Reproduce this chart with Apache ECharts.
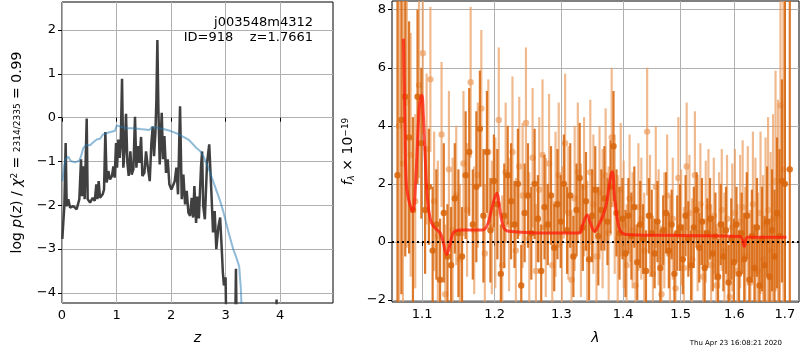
<!DOCTYPE html>
<html>
<head>
<meta charset="utf-8">
<script src="https://cdn.jsdelivr.net/npm/echarts@6/dist/echarts.min.js"></script>
<style>
  html, body { margin: 0; padding: 0; background: #fff; }
  #main { width: 800px; height: 350px; }
</style>
</head>
<body>
<div id="main"></div>
<script>
// p(z) panel
var pzZ = [0.006, 0.024, 0.043, 0.067, 0.086, 0.116, 0.147, 0.208, 0.269, 0.318, 0.349, 0.367, 0.391, 0.416, 0.453, 0.471,
    0.514, 0.563, 0.6, 0.63, 0.648, 0.673, 0.697, 0.746, 0.771, 0.795, 0.82, 0.85, 0.881, 0.917, 0.942, 0.966, 0.991,
    1.009, 1.034, 1.058, 1.076, 1.101, 1.125, 1.15, 1.174, 1.199, 1.223, 1.254, 1.278, 1.309, 1.339, 1.364, 1.394,
    1.419, 1.45, 1.474, 1.511, 1.541, 1.572, 1.609, 1.639, 1.664, 1.688, 1.713, 1.731, 1.749, 1.768, 1.792, 1.829,
    1.853, 1.878, 1.908, 1.939, 1.969, 2.006, 2.037, 2.067, 2.098, 2.128, 2.165, 2.196, 2.226, 2.257, 2.287, 2.318,
    2.349, 2.379, 2.404, 2.428, 2.459, 2.483, 2.51, 2.55, 2.57, 2.59, 2.62, 2.66, 2.70, 2.74, 2.77, 2.80, 2.83, 2.87,
    2.90, 2.93, 2.95, 2.97, 3.0, 3.02, 3.17, 3.19, 3.21, 3.92, 3.935, 3.95, 4.97];
var pzLog = [-2.77, -2.39, -2.02, -0.58, -2.02, -1.86, -2.05, -2.02, -2.09, -1.86, -0.95, -1.79, -1.11, -1.86, -0.02, -1.86,
    -1.94, -1.83, -1.9, -1.52, -1.86, -1.45, -1.83, -1.75, -1.64, -0.33, -1.48, -1.22, -1.41, -1.33, -1.11, -1.37, -0.58,
    -1.14, -0.5, -0.92, -0.65, 0.89, -1.14, -0.73, 0.09, -1.03, -1.33, -0.77, -1.3, -1.18, 0.02, -1.14, -0.65,
    -1.03, -0.44, -1.33, -1.26, -0.77, -1.11, -1.45, -0.58, -0.2, -0.88, -0.35, 0.41, 1.77, 0.18, -1.07, 0.11,
    -0.95, -0.42, -1.26, -0.95, -1.52, -1.64, -1.67, -1.45, -1.14, -1.75, 0.26, -1.86, -1.3, -1.98, -1.67, -2.17,
    -2.24, -1.83, -2.28, -1.56, -2.4, -1.8, -2.3, -1.11, -0.77, -2.02, -2.32, -1.03, -0.61, -1.71, -2.62, -2.13, -3.0, -2.47,
    -2.28, -3.0, -3.53, -3.83, -3.64, -5.5, -5.5, -3.45, -5.5, -5.5, -4.15, -5.5, -5.5];

var chiZ = [0.006, 0.037, 0.067, 0.116, 0.159, 0.239, 0.318, 0.349, 0.391, 0.44, 0.514, 0.575, 0.636, 0.697, 0.746, 0.82,
    0.911, 0.972, 1.003, 1.034, 1.095, 1.187, 1.309, 1.431, 1.602, 1.645, 1.737, 1.859, 1.982, 2.104, 2.226, 2.318,
    2.398, 2.471, 2.532, 2.6, 2.7, 2.8, 2.9, 2.96, 3.05, 3.14, 3.2, 3.25, 3.28, 3.3];
var chiLog = [-1.45, -1.11, -0.94, -0.89, -0.99, -1.02, -0.98, -0.88, -0.69, -0.63, -0.63, -0.56, -0.5, -0.48, -0.39, -0.35,
    -0.32, -0.3, -0.18, -0.17, -0.21, -0.24, -0.24, -0.26, -0.28, -0.22, -0.23, -0.26, -0.3, -0.36, -0.44, -0.5,
    -0.6, -0.7, -0.76, -0.9, -1.2, -1.55, -1.9, -2.15, -2.6, -3.0, -3.2, -3.4, -3.9, -4.6];

var zTicks = [0, 1, 2, 3, 4];
var logTicks = [-4, -3, -2, -1, 0, 1, 2];

// spectrum panel
var darkLam = [1.068, 1.073, 1.078, 1.083, 1.088, 1.094, 1.099, 1.104, 1.109, 1.114, 1.119, 1.124, 1.129, 1.134, 1.139,
    1.144, 1.149, 1.154, 1.159, 1.164, 1.169, 1.174, 1.179, 1.184, 1.189, 1.194, 1.199, 1.204, 1.209, 1.214, 1.219,
    1.224, 1.229, 1.234, 1.239, 1.244, 1.249, 1.254, 1.259, 1.264, 1.269, 1.274, 1.279, 1.284, 1.289, 1.294, 1.299,
    1.304, 1.309, 1.314, 1.319, 1.324, 1.329, 1.334, 1.339, 1.344, 1.349, 1.354, 1.359, 1.364, 1.369, 1.374, 1.379,
    1.384, 1.389, 1.394, 1.399, 1.404, 1.409, 1.414, 1.419, 1.424, 1.429, 1.434, 1.439, 1.444, 1.449, 1.454, 1.459,
    1.464, 1.469, 1.474, 1.479, 1.484, 1.489, 1.494, 1.499, 1.504, 1.509, 1.514, 1.519, 1.524, 1.529, 1.534, 1.539,
    1.544, 1.549, 1.554, 1.559, 1.564, 1.569, 1.574, 1.579, 1.584, 1.589, 1.594, 1.599, 1.604, 1.609, 1.614, 1.619,
    1.624, 1.629, 1.634, 1.639, 1.644, 1.649, 1.654, 1.659, 1.664, 1.669, 1.674, 1.679, 1.684, 1.689, 1.694, 1.700, 1.710];
var darkFlux = [2.3, 4.2, 5.0, 3.6, 1.1, 5.0, 3.4, 1.1, 1.9, -0.3, 0.6, -1.3, 1.0, -0.5, -0.8,
    1.5, 0.3, -0.5, 2.3, 3.1, 0.6, 1.9, 3.9, 0.9, 3.1, 0.4, 2.1, 1.3, -1.1, 0.9, 2.3,
    1.4, 0.6, 2.0, -1.5, 1.0, 1.6, 0.3, 2.0, 0.8, -1.0, 1.2, 0.6, 1.6, -0.2, 1.3, 0.7,
    2.0, 0.4, 1.6, -0.5, 1.1, 2.2, 0.5, 1.4, -0.6, 0.9, 1.8, 0.2, 1.1, 1.5, 0.7, 1.9,
    3.3, 1.0, 0.3, 0.8, -0.4, 0.9, 0.2, 1.2, -0.7, 0.6, 0.1, -1.0, 0.9, 0.3, -0.4, 0.7,
    -0.9, 0.4, 1.0, -0.3, 0.6, -1.1, 0.3, 0.5, -0.6, 0.9, 0.1, -0.8, 0.5, 1.1, -0.2, 0.7,
    -0.9, 0.3, 0.8, -0.4, 0.2, -1.2, 0.6, -0.5, 0.4, -1.4, 0.1, -0.7, 0.6, -1.1, 0.3, -0.6,
    0.9, -1.3, 0.2, -0.9, 0.5, -1.5, 0.1, -0.8, 0.7, -1.2, 0.4, -0.5, 1.0, 0.2, 2.1, 2.0, 2.5];
var darkErr = [9.0, 6.0, 5.5, 4.0, 3.2, 3.0, 2.6, 2.2, 2.0, 2.2, 1.9, 2.1, 2.4, 1.8, 2.0,
    1.9, 2.2, 1.7, 2.2, 2.2, 1.9, 2.6, 2.0, 2.3, 2.1, 1.8, 1.6, 1.9, 1.7, 1.8, 1.7,
    2.0, 1.5, 1.9, 1.4, 1.7, 1.8, 1.6, 1.9, 1.5, 1.6, 1.8, 1.4, 1.7, 1.5, 1.9, 1.6,
    1.7, 1.5, 1.8, 1.4, 1.6, 1.9, 1.5, 1.7, 1.4, 1.6, 1.5, 1.7, 1.4, 1.8, 1.5, 1.6,
    1.9, 1.5, 1.6, 1.4, 1.5, 1.3, 1.5, 1.4, 1.3, 1.5, 1.2, 1.4, 1.3, 1.5, 1.2, 1.4,
    1.3, 1.2, 1.4, 1.3, 1.2, 1.4, 1.3, 1.5, 1.2, 1.4, 1.3, 1.2, 1.4, 1.3, 1.2, 1.5,
    1.3, 1.2, 1.4, 1.3, 1.5, 1.3, 1.4, 1.2, 1.5, 1.3, 1.4, 1.5, 1.3, 1.5, 1.4, 1.6,
    1.5, 1.4, 1.6, 1.5, 1.7, 1.6, 1.8, 1.7, 1.9, 2.0, 2.1, 2.3, 2.6, 3.0, 3.5, 9.0, 12.0];

var lightLam = [1.070, 1.075, 1.080, 1.085, 1.091, 1.096, 1.101, 1.106, 1.111, 1.116, 1.121, 1.126, 1.131, 1.136, 1.141,
    1.146, 1.151, 1.156, 1.161, 1.166, 1.171, 1.176, 1.181, 1.186, 1.191, 1.196, 1.201, 1.206, 1.211, 1.216, 1.221,
    1.226, 1.231, 1.236, 1.241, 1.246, 1.251, 1.256, 1.261, 1.266, 1.271, 1.276, 1.281, 1.286, 1.291, 1.296, 1.301,
    1.306, 1.311, 1.316, 1.321, 1.326, 1.331, 1.336, 1.341, 1.346, 1.351, 1.356, 1.361, 1.366, 1.371, 1.376, 1.381,
    1.386, 1.391, 1.396, 1.401, 1.406, 1.411, 1.416, 1.421, 1.426, 1.431, 1.436, 1.441, 1.446, 1.451, 1.456, 1.461,
    1.466, 1.471, 1.476, 1.481, 1.486, 1.491, 1.496, 1.501, 1.506, 1.511, 1.516, 1.521, 1.526, 1.531, 1.536, 1.541,
    1.546, 1.551, 1.556, 1.561, 1.566, 1.571, 1.576, 1.581, 1.586, 1.591, 1.596, 1.601, 1.606, 1.611, 1.616, 1.621,
    1.626, 1.631, 1.636, 1.641, 1.646, 1.651, 1.656, 1.661, 1.666, 1.671, 1.676, 1.681, 1.686, 1.691, 1.697];
var lightFlux = [4.0, 2.7, 4.8, 3.0, 1.4, 5.4, 6.5, 3.2, 5.6, 1.4, 0.2, 3.7, -1.8, 2.5, 0.4,
    1.6, -0.6, 2.7, 1.1, 5.5, 0.4, 2.3, 4.6, -0.4, 3.1, 0.5, 1.0, 4.2, -0.8, 2.4, 0.6,
    3.1, -0.3, 2.6, 1.6, 4.1, 0.1, 2.9, -1.0, 1.8, 3.0, 0.5, 2.7, -0.8, 1.3, 2.3, 0.2,
    3.4, 1.0, -1.3, 1.5, 2.4, 0.4, 1.9, -0.2, 2.4, 1.3, -0.5, 1.7, 0.8, 2.3, 0.3, 3.6,
    1.3, 0.1, 1.8, 0.6, -0.8, 1.5, 0.4, -1.5, 1.2, 0.8, -0.3, 3.8, 0.9, -1.1, 1.9, 0.5,
    -1.8, 0.4, 1.6, -0.4, 0.8, -1.6, 2.2, 0.5, -0.9, 2.6, 1.0, -0.6, 2.3, 0.3, 1.3, -1.2,
    0.7, 1.2, -0.8, 0.9, -1.5, 0.4, 1.1, -0.3, 0.8, -1.9, 0.5, 1.0, -1.0, 0.7, 1.2, -0.5,
    0.9, -1.4, 1.3, 0.3, -1.0, 1.0, -0.6, 0.6, 1.1, -0.3, 0.8, 2.1, 0.9, 4.7, 2.5];
var lightErr = [8.0, 6.5, 5.0, 4.2, 3.0, 3.2, 2.8, 2.6, 2.5, 2.4, 2.6, 2.5, 2.4, 2.7, 2.5,
    2.4, 2.6, 2.5, 2.3, 2.6, 2.2, 2.5, 2.7, 2.4, 2.5, 2.3, 2.6, 2.5, 2.4, 2.4, 2.3,
    2.6, 2.5, 2.4, 2.5, 2.6, 2.3, 2.4, 2.3, 2.5, 2.6, 2.4, 2.4, 2.3, 2.5, 2.5, 2.4,
    2.4, 2.3, 2.4, 2.5, 2.4, 2.3, 2.4, 2.3, 2.5, 2.4, 2.2, 2.3, 2.4, 2.3, 2.3, 2.4,
    2.4, 2.2, 2.3, 2.2, 2.1, 2.2, 2.0, 2.1, 2.2, 2.1, 2.0, 2.2, 2.1, 2.0, 2.1, 2.0,
    2.1, 2.0, 2.1, 2.0, 2.1, 2.0, 2.1, 2.0, 2.1, 2.2, 2.0, 2.1, 2.2, 2.0, 2.1, 2.0,
    2.1, 2.0, 2.1, 2.0, 2.1, 2.0, 2.1, 2.0, 2.2, 2.1, 2.2, 2.2, 2.3, 2.3, 2.3, 2.4,
    2.4, 2.5, 2.5, 2.6, 2.7, 2.8, 2.9, 3.0, 3.2, 3.4, 3.6, 3.8, 4.0, 4.5, 8.0];

var modelLam = [1.0757, 1.0777, 1.0795, 1.083, 1.0877, 1.0921, 1.0965, 1.0996, 1.1017, 1.104, 1.107, 1.1106, 1.115,
    1.124, 1.128, 1.133, 1.1375, 1.142, 1.151, 1.183, 1.190, 1.196, 1.2031, 1.208, 1.2134, 1.2206, 1.28, 1.328,
    1.334, 1.341, 1.347, 1.353, 1.36, 1.367, 1.372, 1.382, 1.386, 1.392, 1.398, 1.41, 1.50, 1.6106, 1.619, 1.626, 1.703];
var modelFlux = [7.0, 3.8, 1.96, 1.4, 1.06, 2.4, 4.7, 5.05, 4.36, 3.0, 1.5, 0.82, 0.54,
    0.31, 0.02, -0.43, -0.09, 0.31, 0.41, 0.41, 0.6, 1.16, 1.68, 1.05, 0.48, 0.37, 0.31, 0.31,
    0.6, 0.93, 0.6, 0.37, 0.6, 0.93, 1.29, 2.42, 1.5, 0.6, 0.31, 0.25, 0.22, 0.19, -0.15, 0.16, 0.16];

var lamTicks = [1.1, 1.2, 1.3, 1.4, 1.5, 1.6, 1.7];
var fluxTicks = [-2, 0, 2, 4, 6, 8];

var FONT = 'DejaVu Sans';
function minus(v) { return String(v).replace('-', '\u2212'); }
function zip(a, b) { return a.map(function (v, i) { return [v, b[i]]; }); }

function errData(lam, flux, err) {
    return lam.map(function (l, i) { return [Math.log(l), flux[i], err[i]]; });
}

function errRender(color, opacity) {
    return function (params, api) {
        var x = api.value(0), y = api.value(1), e = api.value(2);
        var top = api.coord([x, y + e]);
        var bot = api.coord([x, y - e]);
        var mid = api.coord([x, y]);
        return {
            type: 'group',
            children: [{
                type: 'line',
                shape: {x1: top[0], y1: top[1], x2: bot[0], y2: bot[1]},
                style: {stroke: color, lineWidth: 2.2, opacity: opacity}
            }, {
                type: 'circle',
                shape: {cx: mid[0], cy: mid[1], r: 3.2},
                style: {fill: color, opacity: opacity}
            }]
        };
    };
}

var axisText = {color: '#000', fontFamily: FONT, fontSize: 13};
var splitGrey = {show: true, lineStyle: {color: '#b0b0b0', width: 1}};
var tickBlack = {show: true, inside: false, length: 4, lineStyle: {color: '#000'}};

var myChart = echarts.init(document.getElementById('main'), null, {renderer: 'canvas'});
var option = {
    animation: false,
    backgroundColor: '#fff',
    title: [{
        text: 'j003548m4312',
        right: 482, top: 11,
        textStyle: {fontFamily: FONT, fontSize: 13, fontWeight: 'normal', color: '#000'}
    }, {
        text: 'ID=918    z=1.7661',
        right: 482, top: 26,
        textStyle: {fontFamily: FONT, fontSize: 13, fontWeight: 'normal', color: '#000'}
    }, {
        text: 'Thu Apr 23 16:08:21 2020',
        right: 13, top: 335,
        textStyle: {fontFamily: FONT, fontSize: 7, fontWeight: 'normal', color: '#000'}
    }],
    grid: [{
        left: 62, top: 2, width: 271, height: 302,
        show: true, borderColor: '#000', borderWidth: 1, backgroundColor: 'transparent'
    }, {
        left: 392, top: 1, width: 407, height: 303,
        show: true, borderColor: '#000', borderWidth: 1, backgroundColor: 'transparent'
    }],
    xAxis: [{
        gridIndex: 0, type: 'value', min: 0, max: 4.97,
        axisLine: {show: false},
        axisTick: {show: true, length: 4, lineStyle: {color: '#000'}, customValues: zTicks},
        axisLabel: Object.assign({customValues: zTicks, margin: 6, formatter: minus}, axisText),
        splitLine: splitGrey,
        name: 'z', nameLocation: 'middle', nameGap: 28,
        nameTextStyle: {fontFamily: FONT, fontSize: 14, fontStyle: 'italic', color: '#000'}
    }, {
        gridIndex: 1, type: 'value', min: Math.log(1.061), max: Math.log(1.729),
        axisLine: {show: false},
        axisTick: {show: true, length: 4, lineStyle: {color: '#000'}, customValues: lamTicks.map(Math.log)},
        axisLabel: Object.assign({
            customValues: lamTicks.map(Math.log), margin: 6,
            formatter: function (v) { return Math.exp(v).toFixed(1); }
        }, axisText),
        splitLine: splitGrey,
        name: 'λ', nameLocation: 'middle', nameGap: 29,
        nameTextStyle: {fontFamily: FONT, fontSize: 14, fontStyle: 'italic', color: '#000'}
    }],
    yAxis: [{
        gridIndex: 0, type: 'value', min: -4.23, max: 2.64,
        axisLine: {show: false},
        axisTick: {show: true, length: 4, lineStyle: {color: '#000'}, customValues: logTicks},
        axisLabel: Object.assign({customValues: logTicks, margin: 6, formatter: minus}, axisText),
        splitLine: splitGrey,
        name: '{n|log }{i|p}{n|(}{i|z}{n|) / }{i|χ}{s|2}{n| = }{f|2314/2335}{n| = 0.99}',
        nameLocation: 'middle', nameGap: 37,
        nameTextStyle: {
            color: '#000', fontFamily: FONT, fontSize: 14,
            rich: {
                n: {fontFamily: FONT, fontSize: 14, color: '#000'},
                i: {fontFamily: FONT, fontSize: 14, fontStyle: 'italic', color: '#000'},
                s: {fontFamily: FONT, fontSize: 9, color: '#000', verticalAlign: 'top', padding: [0, 0, 6, 0]},
                f: {fontFamily: FONT, fontSize: 9, color: '#000'}
            }
        }
    }, {
        gridIndex: 1, type: 'value', min: -2.07, max: 8.3,
        axisLine: {show: false},
        axisTick: {show: true, length: 4, lineStyle: {color: '#000'}, customValues: fluxTicks},
        axisLabel: Object.assign({customValues: fluxTicks, margin: 6, formatter: minus}, axisText),
        splitLine: splitGrey,
        name: '{i|f}{b|λ}{n| × 10}{s|−19}',
        nameLocation: 'middle', nameGap: 34,
        nameTextStyle: {
            color: '#000', fontFamily: FONT, fontSize: 14,
            rich: {
                n: {fontFamily: FONT, fontSize: 14, color: '#000'},
                i: {fontFamily: FONT, fontSize: 14, fontStyle: 'italic', color: '#000'},
                b: {fontFamily: FONT, fontSize: 9, fontStyle: 'italic', color: '#000', padding: [6, 0, 0, 0]},
                s: {fontFamily: FONT, fontSize: 9, color: '#000', padding: [0, 0, 6, 0]}
            }
        }
    }],
    series: [{
        type: 'line', xAxisIndex: 0, yAxisIndex: 0,
        data: zip(chiZ, chiLog), showSymbol: false, clip: true,
        lineStyle: {color: '#1f77b4', width: 2, opacity: 0.5}, z: 3
    }, {
        type: 'line', xAxisIndex: 0, yAxisIndex: 0,
        data: zip(pzZ, pzLog), showSymbol: false, clip: true,
        lineStyle: {color: '#404040', width: 2.5}, z: 2
    }, {
        type: 'custom', xAxisIndex: 1, yAxisIndex: 1, clip: true,
        data: errData(lightLam, lightFlux, lightErr),
        renderItem: errRender('#eb9d5e', 0.7), z: 2
    }, {
        type: 'custom', xAxisIndex: 1, yAxisIndex: 1, clip: true,
        data: errData(darkLam, darkFlux, darkErr),
        renderItem: errRender('#d8670e', 0.88), z: 3
    }, {
        type: 'line', xAxisIndex: 1, yAxisIndex: 1, clip: true,
        data: modelLam.map(function (l, i) { return [Math.log(l), modelFlux[i]]; }),
        smooth: 0.4, showSymbol: false,
        lineStyle: {color: '#ff1a0a', width: 3, opacity: 0.75}, z: 5,
        markLine: {
            silent: true, symbol: 'none', label: {show: false},
            lineStyle: {color: '#000', type: [2, 3], width: 2},
            data: [{yAxis: 0}]
        }
    }]
};
myChart.setOption(option);
</script>
</body>
</html>
